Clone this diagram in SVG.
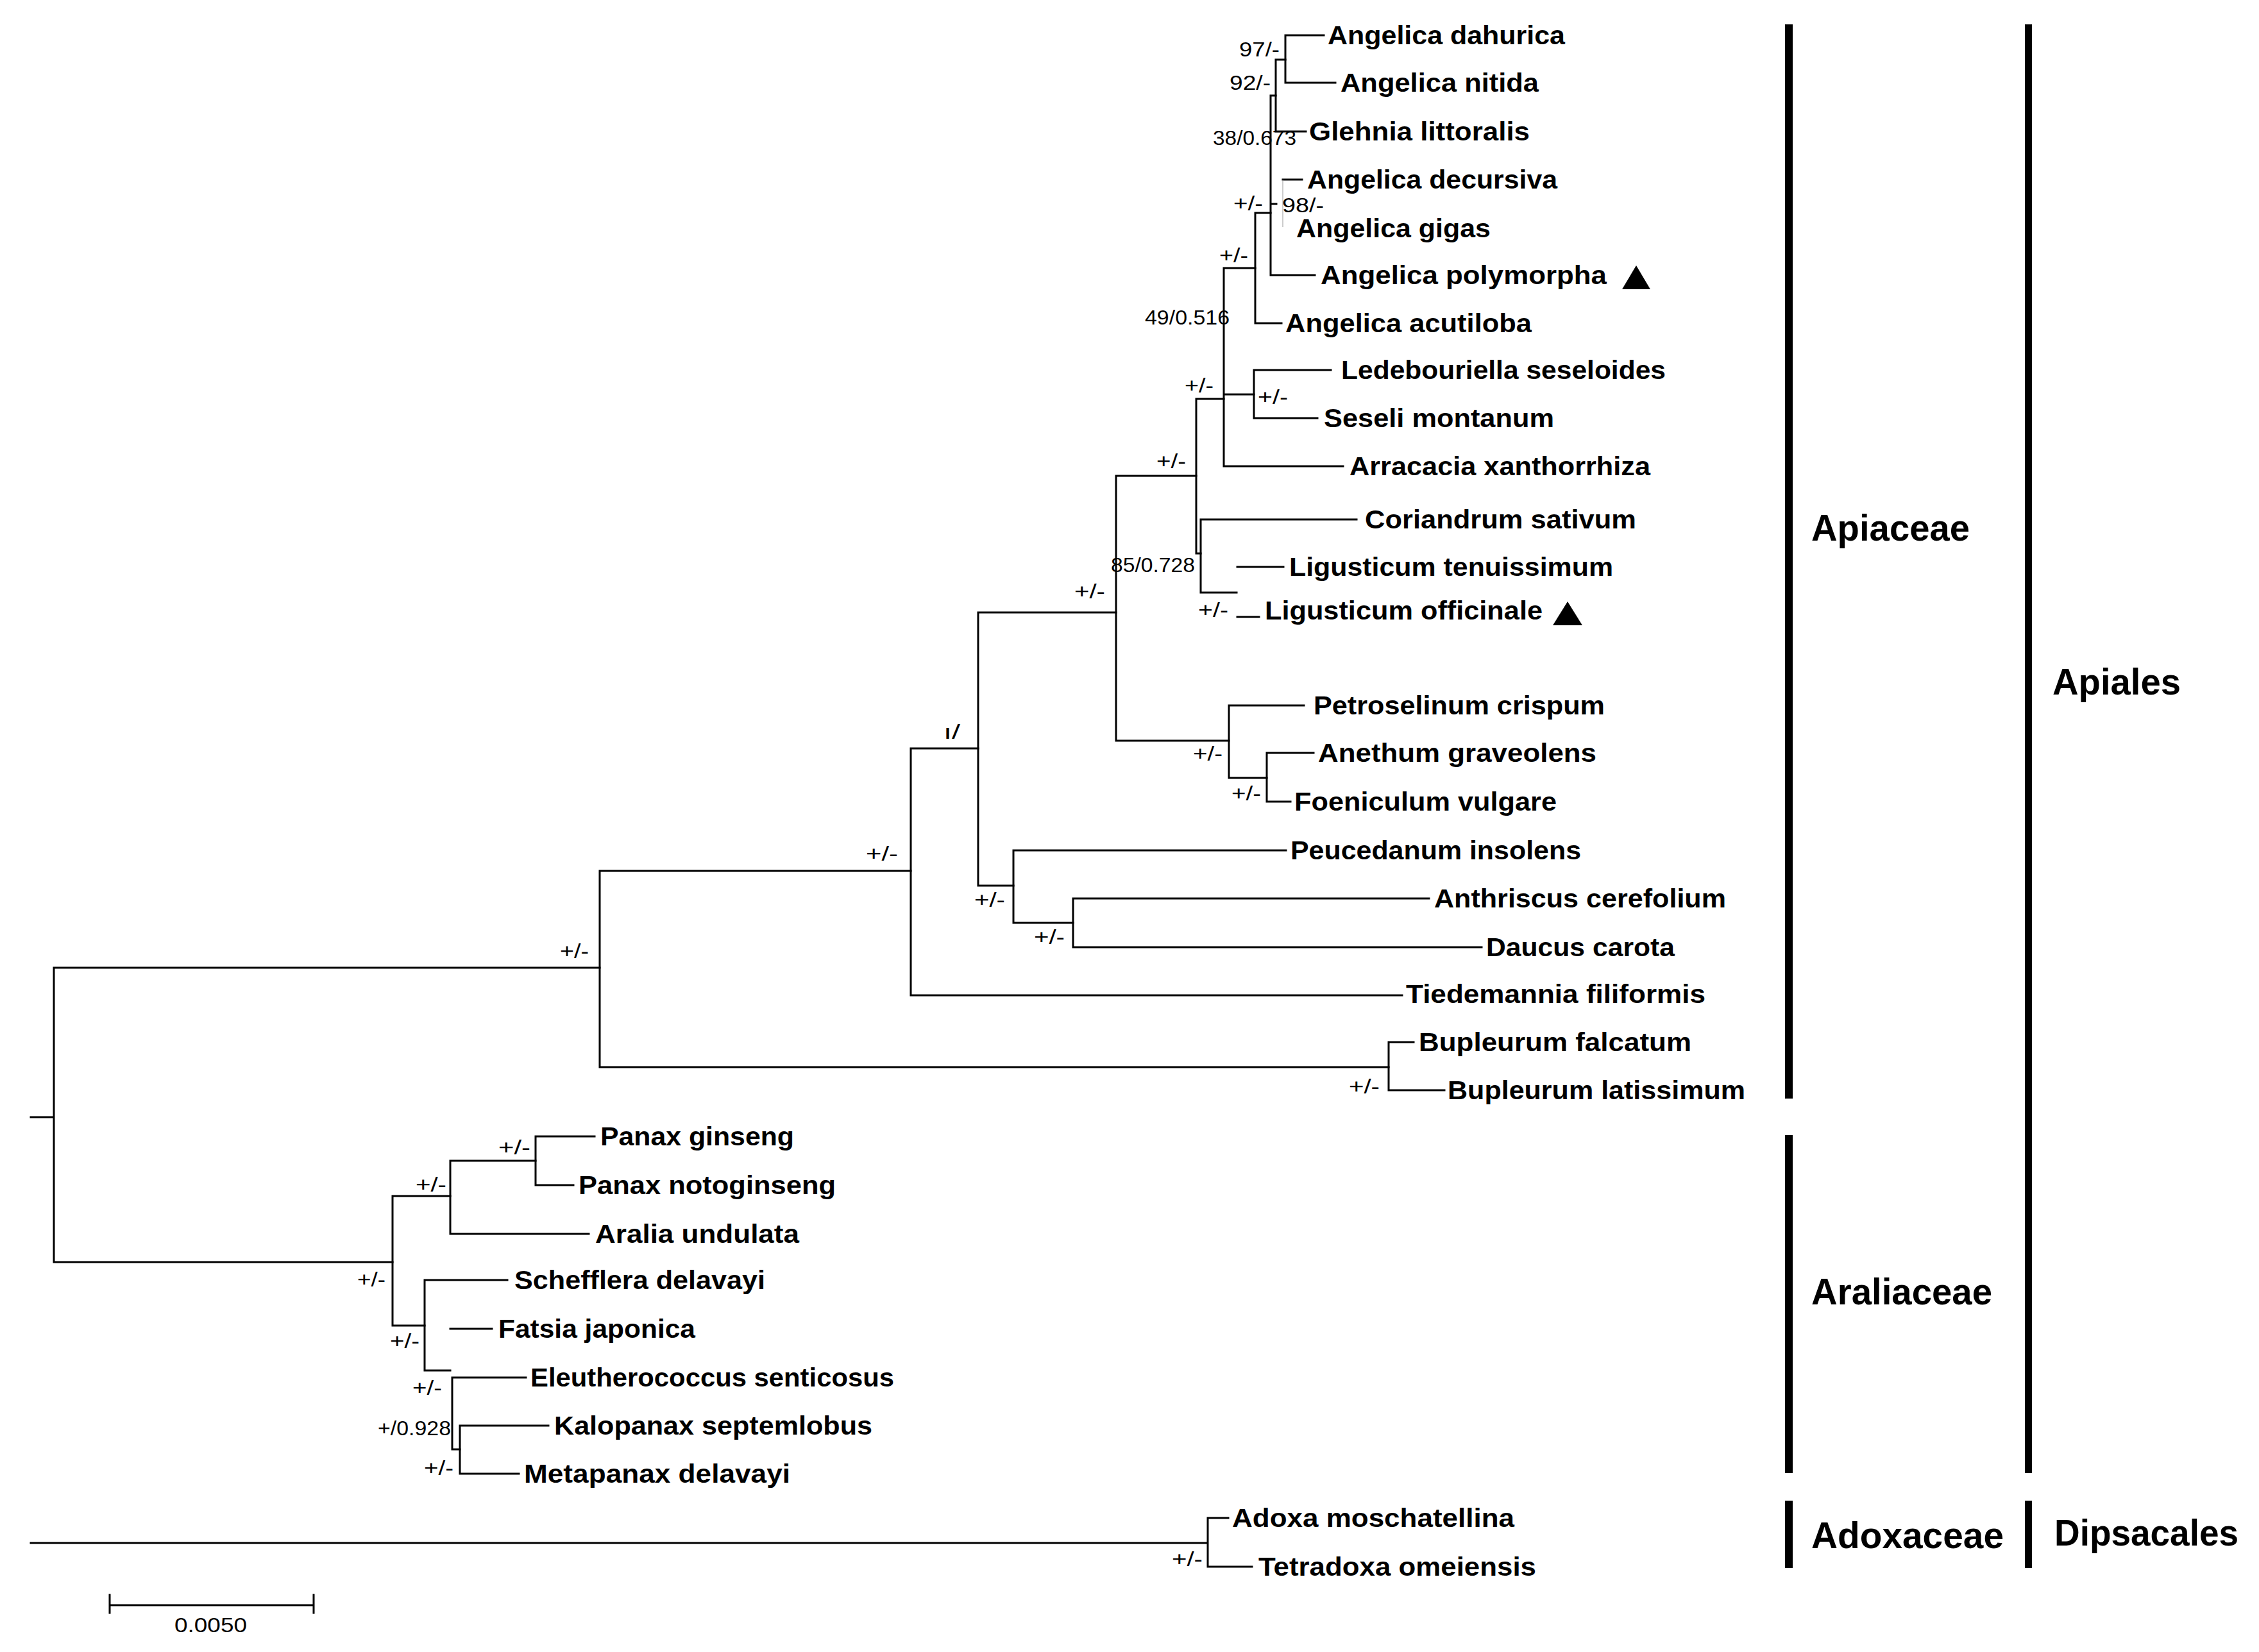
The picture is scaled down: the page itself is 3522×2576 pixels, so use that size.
<svg xmlns="http://www.w3.org/2000/svg" width="3522" height="2576" viewBox="0 0 3522 2576">
<style>
.br{stroke:#000;stroke-width:3;fill:none;stroke-linecap:square}
.faint{stroke:#999;stroke-width:1;fill:none}
.leaf{font-family:"Liberation Sans",Arial,sans-serif;font-weight:bold;font-size:41px;fill:#000}
.sup{font-family:"Liberation Sans",Arial,sans-serif;font-size:32px;fill:#000}
.clade{font-family:"Liberation Sans",Arial,sans-serif;font-weight:bold;font-size:58px;fill:#000}
.bar{fill:#000}
</style>
<rect width="3522" height="2576" fill="#fff"/>
<g id="connectors">
<path class="br" d="M48 1742H84 M84 1509V1968 M84 1509H935 M84 1968H612"/>
<path class="br" d="M935 1358V1664 M935 1358H1420 M935 1664H2165"/>
<path class="br" d="M2165 1625V1700 M2165 1625H2204 M2165 1700H2252"/>
<path class="br" d="M1420 1167V1552 M1420 1552H2186 M1420 1167H1525"/>
<path class="br" d="M1525 955V1381 M1525 1381H1580 M1525 955H1740"/>
<path class="br" d="M1580 1326V1439 M1580 1326H2005 M1580 1439H1673"/>
<path class="br" d="M1673 1401V1477 M1673 1401H2228 M1673 1477H2310"/>
<path class="br" d="M1740 742V1155 M1740 1155H1916 M1740 742H1865"/>
<path class="br" d="M1916 1100V1213 M1916 1100H2033 M1916 1213H1975"/>
<path class="br" d="M1975 1174V1250 M1975 1174H2048 M1975 1250H2012"/>
<path class="br" d="M1865 622V863 M1865 622H1908 M1865 863H1872"/>
<path class="br" d="M1872 810V924 M1872 810H2115 M1872 924H1928 M1929 884H2001 M1929 962H1963"/>
<path class="br" d="M1908 418V727 M1908 727H2094 M1908 615H1955 M1908 418H1957"/>
<path class="br" d="M1955 577V652 M1955 577H2075 M1955 652H2054"/>
<path class="br" d="M1957 332V504 M1957 504H1998 M1957 332H1981"/>
<path class="br" d="M1981 149V429 M1981 429H2050 M1981 149H1989 M1981 318H1990"/>
<path class="br" d="M1989 93V205 M1989 205H2036 M1989 93H2004"/>
<path class="br" d="M2004 55V129 M2004 55H2064 M2004 129H2082"/>
<path class="br" d="M2000 280H2030"/>
<path class="faint" d="M2000 280V354"/>
<path class="br" d="M612 1865V2067 M612 1865H702 M612 2067H662"/>
<path class="br" d="M702 1810V1924 M702 1810H835 M702 1924H918"/>
<path class="br" d="M835 1772V1848 M835 1772H927 M835 1848H894"/>
<path class="br" d="M662 1996V2137 M662 1996H791 M662 2137H702 M702 2072H767"/>
<path class="br" d="M705 2148V2260 M705 2148H820 M705 2260H717"/>
<path class="br" d="M717 2223V2298 M717 2223H855 M717 2298H809"/>
<path class="br" d="M48 2406H1883 M1883 2367V2443 M1883 2367H1915 M1883 2443H1952"/>
<path class="br" d="M171 2503H489 M171 2487V2515 M489 2487V2515"/>
</g>
<g id="support-values">
<text class="sup" x="1932" y="88" textLength="63" lengthAdjust="spacingAndGlyphs">97/-</text>
<text class="sup" x="1917" y="140" textLength="64" lengthAdjust="spacingAndGlyphs">92/-</text>
<text class="sup" x="1891" y="226" textLength="130" lengthAdjust="spacingAndGlyphs">38/0.673</text>
<text class="sup" x="1923" y="328" textLength="46" lengthAdjust="spacingAndGlyphs">+/-</text>
<text class="sup" x="1999" y="331" textLength="65" lengthAdjust="spacingAndGlyphs">98/-</text>
<text class="sup" x="1901" y="409" textLength="45" lengthAdjust="spacingAndGlyphs">+/-</text>
<text class="sup" x="1785" y="506" textLength="132" lengthAdjust="spacingAndGlyphs">49/0.516</text>
<text class="sup" x="1847" y="612" textLength="45" lengthAdjust="spacingAndGlyphs">+/-</text>
<text class="sup" x="1961" y="630" textLength="47" lengthAdjust="spacingAndGlyphs">+/-</text>
<text class="sup" x="1803" y="730" textLength="46" lengthAdjust="spacingAndGlyphs">+/-</text>
<text class="sup" x="1732" y="892" textLength="131" lengthAdjust="spacingAndGlyphs">85/0.728</text>
<text class="sup" x="1868" y="962" textLength="47" lengthAdjust="spacingAndGlyphs">+/-</text>
<text class="sup" x="1675" y="933" textLength="48" lengthAdjust="spacingAndGlyphs">+/-</text>
<text class="sup" x="1471" y="1152" textLength="26" lengthAdjust="spacingAndGlyphs">ı/</text>
<text class="sup" x="1860" y="1186" textLength="46" lengthAdjust="spacingAndGlyphs">+/-</text>
<text class="sup" x="1920" y="1248" textLength="46" lengthAdjust="spacingAndGlyphs">+/-</text>
<text class="sup" x="1350" y="1342" textLength="50" lengthAdjust="spacingAndGlyphs">+/-</text>
<text class="sup" x="1519" y="1414" textLength="48" lengthAdjust="spacingAndGlyphs">+/-</text>
<text class="sup" x="1612" y="1472" textLength="48" lengthAdjust="spacingAndGlyphs">+/-</text>
<text class="sup" x="2103" y="1705" textLength="48" lengthAdjust="spacingAndGlyphs">+/-</text>
<text class="sup" x="873" y="1494" textLength="45" lengthAdjust="spacingAndGlyphs">+/-</text>
<text class="sup" x="777" y="1800" textLength="50" lengthAdjust="spacingAndGlyphs">+/-</text>
<text class="sup" x="648" y="1858" textLength="48" lengthAdjust="spacingAndGlyphs">+/-</text>
<text class="sup" x="557" y="2006" textLength="44" lengthAdjust="spacingAndGlyphs">+/-</text>
<text class="sup" x="608" y="2102" textLength="46" lengthAdjust="spacingAndGlyphs">+/-</text>
<text class="sup" x="643" y="2175" textLength="46" lengthAdjust="spacingAndGlyphs">+/-</text>
<text class="sup" x="589" y="2238" textLength="114" lengthAdjust="spacingAndGlyphs">+/0.928</text>
<text class="sup" x="661" y="2300" textLength="46" lengthAdjust="spacingAndGlyphs">+/-</text>
<text class="sup" x="1827" y="2442" textLength="48" lengthAdjust="spacingAndGlyphs">+/-</text>
<text class="sup" x="272" y="2545" textLength="113" lengthAdjust="spacingAndGlyphs">0.0050</text>
</g>
<g id="leaf-angelica-dahurica"><text class="leaf" x="2070" y="69" textLength="370" lengthAdjust="spacingAndGlyphs">Angelica dahurica</text></g>
<g id="leaf-angelica-nitida"><text class="leaf" x="2090" y="143" textLength="309" lengthAdjust="spacingAndGlyphs">Angelica nitida</text></g>
<g id="leaf-glehnia-littoralis"><text class="leaf" x="2041" y="219" textLength="344" lengthAdjust="spacingAndGlyphs">Glehnia littoralis</text></g>
<g id="leaf-angelica-decursiva"><text class="leaf" x="2038" y="294" textLength="390" lengthAdjust="spacingAndGlyphs">Angelica decursiva</text></g>
<g id="leaf-angelica-gigas"><text class="leaf" x="2021" y="370" textLength="303" lengthAdjust="spacingAndGlyphs">Angelica gigas</text></g>
<g id="leaf-angelica-polymorpha"><text class="leaf" x="2059" y="443" textLength="446" lengthAdjust="spacingAndGlyphs">Angelica polymorpha</text><polygon points="2529,451 2573,451 2551,414" fill="#000"/></g>
<g id="leaf-angelica-acutiloba"><text class="leaf" x="2004" y="518" textLength="384" lengthAdjust="spacingAndGlyphs">Angelica acutiloba</text></g>
<g id="leaf-ledebouriella-seseloides"><text class="leaf" x="2091" y="591" textLength="506" lengthAdjust="spacingAndGlyphs">Ledebouriella seseloides</text></g>
<g id="leaf-seseli-montanum"><text class="leaf" x="2064" y="666" textLength="359" lengthAdjust="spacingAndGlyphs">Seseli montanum</text></g>
<g id="leaf-arracacia-xanthorrhiza"><text class="leaf" x="2104" y="741" textLength="469" lengthAdjust="spacingAndGlyphs">Arracacia xanthorrhiza</text></g>
<g id="leaf-coriandrum-sativum"><text class="leaf" x="2128" y="824" textLength="423" lengthAdjust="spacingAndGlyphs">Coriandrum sativum</text></g>
<g id="leaf-ligusticum-tenuissimum"><text class="leaf" x="2010" y="898" textLength="505" lengthAdjust="spacingAndGlyphs">Ligusticum tenuissimum</text></g>
<g id="leaf-ligusticum-officinale"><text class="leaf" x="1972" y="966" textLength="433" lengthAdjust="spacingAndGlyphs">Ligusticum officinale</text><polygon points="2421,975 2467,975 2444,938" fill="#000"/></g>
<g id="leaf-petroselinum-crispum"><text class="leaf" x="2048" y="1114" textLength="454" lengthAdjust="spacingAndGlyphs">Petroselinum crispum</text></g>
<g id="leaf-anethum-graveolens"><text class="leaf" x="2055" y="1188" textLength="434" lengthAdjust="spacingAndGlyphs">Anethum graveolens</text></g>
<g id="leaf-foeniculum-vulgare"><text class="leaf" x="2018" y="1264" textLength="409" lengthAdjust="spacingAndGlyphs">Foeniculum vulgare</text></g>
<g id="leaf-peucedanum-insolens"><text class="leaf" x="2012" y="1340" textLength="453" lengthAdjust="spacingAndGlyphs">Peucedanum insolens</text></g>
<g id="leaf-anthriscus-cerefolium"><text class="leaf" x="2236" y="1415" textLength="455" lengthAdjust="spacingAndGlyphs">Anthriscus cerefolium</text></g>
<g id="leaf-daucus-carota"><text class="leaf" x="2317" y="1491" textLength="294" lengthAdjust="spacingAndGlyphs">Daucus carota</text></g>
<g id="leaf-tiedemannia-filiformis"><text class="leaf" x="2192" y="1564" textLength="467" lengthAdjust="spacingAndGlyphs">Tiedemannia filiformis</text></g>
<g id="leaf-bupleurum-falcatum"><text class="leaf" x="2212" y="1639" textLength="425" lengthAdjust="spacingAndGlyphs">Bupleurum falcatum</text></g>
<g id="leaf-bupleurum-latissimum"><text class="leaf" x="2257" y="1714" textLength="464" lengthAdjust="spacingAndGlyphs">Bupleurum latissimum</text></g>
<g id="leaf-panax-ginseng"><text class="leaf" x="936" y="1786" textLength="302" lengthAdjust="spacingAndGlyphs">Panax ginseng</text></g>
<g id="leaf-panax-notoginseng"><text class="leaf" x="902" y="1862" textLength="401" lengthAdjust="spacingAndGlyphs">Panax notoginseng</text></g>
<g id="leaf-aralia-undulata"><text class="leaf" x="928" y="1938" textLength="318" lengthAdjust="spacingAndGlyphs">Aralia undulata</text></g>
<g id="leaf-schefflera-delavayi"><text class="leaf" x="802" y="2010" textLength="391" lengthAdjust="spacingAndGlyphs">Schefflera delavayi</text></g>
<g id="leaf-fatsia-japonica"><text class="leaf" x="777" y="2086" textLength="307" lengthAdjust="spacingAndGlyphs">Fatsia japonica</text></g>
<g id="leaf-eleutherococcus-senticosus"><text class="leaf" x="827" y="2162" textLength="567" lengthAdjust="spacingAndGlyphs">Eleutherococcus senticosus</text></g>
<g id="leaf-kalopanax-septemlobus"><text class="leaf" x="864" y="2237" textLength="496" lengthAdjust="spacingAndGlyphs">Kalopanax septemlobus</text></g>
<g id="leaf-metapanax-delavayi"><text class="leaf" x="817" y="2312" textLength="415" lengthAdjust="spacingAndGlyphs">Metapanax delavayi</text></g>
<g id="leaf-adoxa-moschatellina"><text class="leaf" x="1921" y="2381" textLength="440" lengthAdjust="spacingAndGlyphs">Adoxa moschatellina</text></g>
<g id="leaf-tetradoxa-omeiensis"><text class="leaf" x="1962" y="2457" textLength="433" lengthAdjust="spacingAndGlyphs">Tetradoxa omeiensis</text></g>
<g id="clade-apiaceae"><rect class="bar" x="2783" y="38" width="12" height="1675"/><text class="clade" x="2824" y="843" textLength="247" lengthAdjust="spacingAndGlyphs">Apiaceae</text></g>
<g id="clade-araliaceae"><rect class="bar" x="2783" y="1770" width="12" height="527"/><text class="clade" x="2824" y="2034" textLength="282" lengthAdjust="spacingAndGlyphs">Araliaceae</text></g>
<g id="clade-adoxaceae"><rect class="bar" x="2783" y="2340" width="12" height="105"/><text class="clade" x="2824" y="2414" textLength="300" lengthAdjust="spacingAndGlyphs">Adoxaceae</text></g>
<g id="order-apiales"><rect class="bar" x="3157" y="38" width="11" height="2259"/><text class="clade" x="3200" y="1083" textLength="200" lengthAdjust="spacingAndGlyphs">Apiales</text></g>
<g id="order-dipsacales"><rect class="bar" x="3157" y="2340" width="11" height="105"/><text class="clade" x="3203" y="2410" textLength="287" lengthAdjust="spacingAndGlyphs">Dipsacales</text></g>
</svg>
